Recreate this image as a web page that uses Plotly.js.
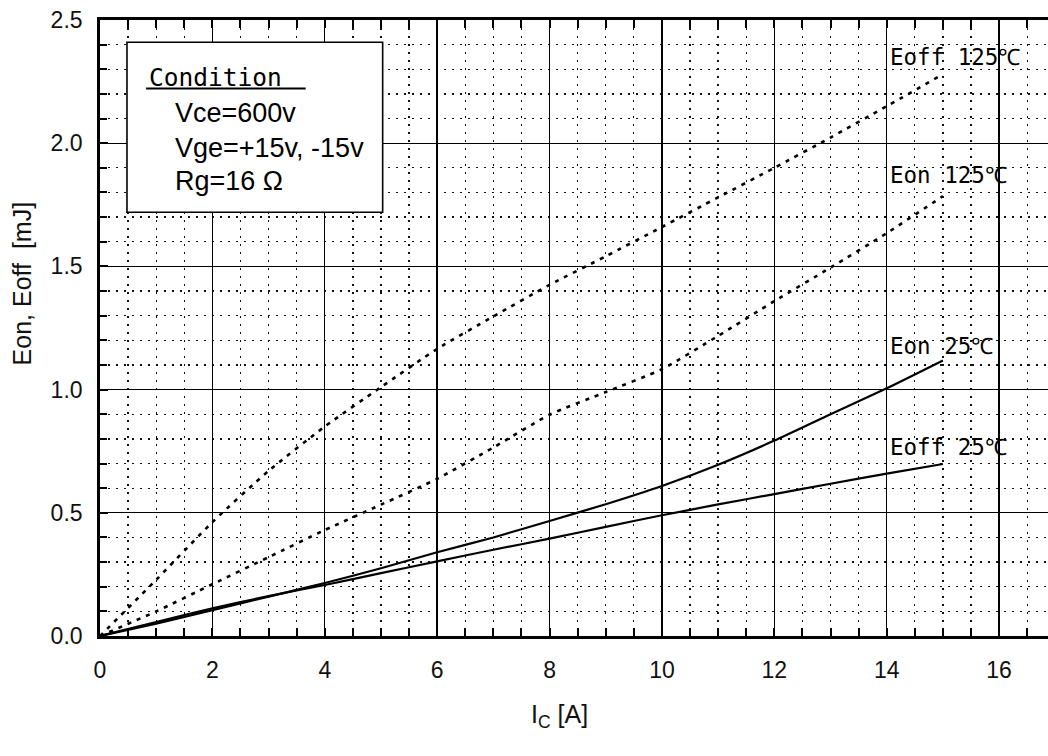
<!DOCTYPE html>
<html>
<head>
<meta charset="utf-8">
<script src="https://cdn.plot.ly/plotly-3.0.1.min.js"></script>
<style>
  html, body { margin: 0; padding: 0; background: #fff; }
  #chart { width: 1048px; height: 756px; }
</style>
</head>
<body>
<div id="chart"></div>
<script>
// ---- data ----
const icA      = [0, 1, 2, 3, 4, 5, 6, 7, 8, 9, 10, 11, 12, 13, 14, 15];
const eon25    = [0, 0.05, 0.105, 0.16, 0.215, 0.275, 0.34, 0.40, 0.467, 0.535, 0.609, 0.695, 0.793, 0.90, 1.005, 1.118];
const eoff25   = [0, 0.057, 0.112, 0.162, 0.207, 0.255, 0.303, 0.35, 0.395, 0.443, 0.49, 0.534, 0.576, 0.618, 0.659, 0.698];
const eon125   = [0, 0.10, 0.21, 0.32, 0.43, 0.533, 0.638, 0.765, 0.898, 0.99, 1.083, 1.218, 1.359, 1.495, 1.635, 1.785];
const eoff125  = [0, 0.228, 0.462, 0.67, 0.85, 1.01, 1.165, 1.297, 1.425, 1.541, 1.66, 1.78, 1.90, 2.023, 2.15, 2.28];

const seriesNames  = ["Eoff 125℃", "Eon 125℃", "Eon 25℃", "Eoff 25℃"];
const conditionTitle = "Condition";
const conditionLines = ["Vce=600v", "Vge=+15v, -15v", "Rg=16 Ω"];
const xTitle = "I<sub>C</sub> [A]";
const yTitle = "Eon, Eoff  [mJ]";

const xTickVals = [0, 2, 4, 6, 8, 10, 12, 14, 16];
const yTickVals = [0, 0.5, 1.0, 1.5, 2.0, 2.5];

// ---- styles ----
const solid  = { color: "#000", width: 2.2, shape: "spline", smoothing: 0.6 };
const dotted = { color: "#000", width: 2.6, dash: "4px,6px", shape: "spline", smoothing: 0.6 };

const traces = [
  { x: icA, y: eoff125, mode: "lines", line: dotted, name: seriesNames[0], hoverinfo: "skip" },
  { x: icA, y: eon125,  mode: "lines", line: dotted, name: seriesNames[1], hoverinfo: "skip" },
  { x: icA, y: eon25,   mode: "lines", line: solid,  name: seriesNames[2], hoverinfo: "skip" },
  { x: icA, y: eoff25,  mode: "lines", line: solid,  name: seriesNames[3], hoverinfo: "skip" }
];

const tickFont = { family: "Liberation Sans, Arial, sans-serif", size: 23, color: "#111" };
const labelFont = { family: "DejaVu Sans Mono, monospace", size: 22.5, color: "#000" };
const condFont = { family: "Liberation Sans, Arial, sans-serif", size: 27, color: "#000" };

const minorGrid = {
  showgrid: true, gridcolor: "#111", gridwidth: 1.3, griddash: "2px,6px",
  ticks: "inside", ticklen: 8, tickwidth: 2, tickcolor: "#000"
};

// label anchor positions (layout)
const labelPos = [
  { x: 14.02, y: 2.348 },
  { x: 14.02, y: 1.869 },
  { x: 14.02, y: 1.176 },
  { x: 14.02, y: 0.766 }
];

const annotations = seriesNames.map((t, i) => ({
  text: t, x: labelPos[i].x, y: labelPos[i].y, xref: "x", yref: "y",
  xanchor: "left", yanchor: "middle", showarrow: false, font: labelFont
}));

annotations.push({
  text: conditionTitle, x: 0.836, y: 2.268, xref: "x", yref: "y",
  xanchor: "left", yanchor: "middle", showarrow: false,
  font: { family: "DejaVu Sans Mono, monospace", size: 24.5, color: "#000" }
});
const condY = [2.122, 1.982, 1.848];
conditionLines.forEach((t, i) => annotations.push({
  text: t, x: 1.30, y: condY[i], xref: "x", yref: "y",
  xanchor: "left", yanchor: "middle", showarrow: false, font: condFont
}));

annotations.push({
  text: yTitle, x: -0.0823, y: 1.431, xref: "paper", yref: "y",
  xanchor: "center", yanchor: "middle", textangle: -90, showarrow: false,
  font: { family: "Liberation Sans, Arial, sans-serif", size: 25, color: "#111" }
});
annotations.push({
  text: xTitle, x: 8.17, y: -0.13, xref: "x", yref: "paper",
  xanchor: "center", yanchor: "middle", showarrow: false,
  font: { family: "Liberation Sans, Arial, sans-serif", size: 25, color: "#111" }
});

const layout = {
  width: 1048, height: 756,
  margin: { l: 100, r: 0, t: 20, b: 120, pad: 0 },
  paper_bgcolor: "#fff", plot_bgcolor: "#fff",
  showlegend: false,
  font: tickFont,
  xaxis: {
    range: [0, 16.87], tickvals: xTickVals, ticktext: xTickVals.map(String),
    showgrid: true, gridcolor: "#000", gridwidth: 1.4,
    zeroline: false, showline: true, linecolor: "#000", linewidth: 2.8,
    mirror: "ticks", ticks: "inside", ticklen: 8, tickwidth: 2, tickcolor: "#000",
    tickfont: tickFont, ticklabelstandoff: 12,
    minor: Object.assign({}, minorGrid, { dtick: 0.5, tick0: 0 })
  },
  yaxis: {
    range: [0, 2.5], tickvals: yTickVals, ticktext: yTickVals.map(v => v.toFixed(1)),
    showgrid: true, gridcolor: "#000", gridwidth: 1.4,
    zeroline: false, showline: true, linecolor: "#000", linewidth: 2.8,
    mirror: false, ticks: "inside", ticklen: 8, tickwidth: 2, tickcolor: "#000",
    tickfont: tickFont, ticklabelstandoff: 10,
    minor: Object.assign({}, minorGrid, { dtick: 0.1, tick0: 0, ticklen: 7 })
  },
  shapes: [
    { type: "rect", xref: "x", yref: "y", x0: 0.48, x1: 5.03, y0: 1.72, y1: 2.41,
      fillcolor: "#fff", line: { color: "#000", width: 1.6 }, layer: "above" },
    { type: "line", xref: "x", yref: "y", x0: 0.82, x1: 3.66, y0: 2.222, y1: 2.222,
      line: { color: "#000", width: 2 }, layer: "above" }
  ],
  annotations: annotations
};

Plotly.newPlot("chart", traces, layout, { staticPlot: true, displayModeBar: false });
</script>
</body>
</html>
